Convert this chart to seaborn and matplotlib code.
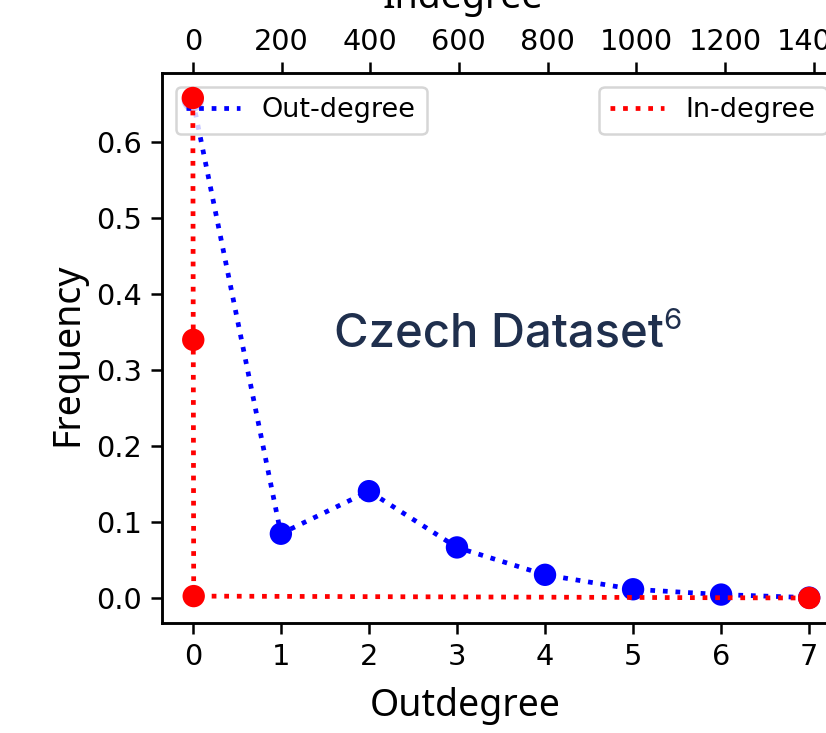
import matplotlib
matplotlib.use("Agg")
import matplotlib.pyplot as plt
import seaborn as sns
import numpy as np

# ---- data ----
outdegree = [0, 1, 2, 3, 4, 5, 6, 7]
out_freq = [0.655, 0.085, 0.141, 0.067, 0.031, 0.012, 0.005, 0.001]
indegree = [0, 1, 2, 1390]
in_freq = [0.658, 0.340, 0.003, 0.0005]
y_ticks = [0.0, 0.1, 0.2, 0.3, 0.4, 0.5, 0.6]
x_ticks = [0, 1, 2, 3, 4, 5, 6, 7]
top_ticks = [0, 200, 400, 600, 800, 1000, 1200, 1400]

W, H, DPI = 826, 733, 180
fig = plt.figure(figsize=(W / DPI, H / DPI), dpi=DPI)
fig.patch.set_facecolor("white")

L, R, B, T = 162, 840, 623, 73
ax = fig.add_axes([L / W, (H - B) / H, (R - L) / W, (B - T) / H])

for side in ["left", "right", "top", "bottom"]:
    ax.spines[side].set_linewidth(1.0)

LW = 1.9
MS = 80
sns.lineplot(x=outdegree, y=out_freq, ax=ax, color="blue", linestyle=":",
             linewidth=LW, label="Out-degree")
sns.scatterplot(x=outdegree, y=out_freq, ax=ax, color="blue", s=MS,
                edgecolor="none", zorder=3)
ax.set_xticks(x_ticks)
ax.set_yticks(y_ticks)
ax.set_xlabel("")
ax.set_ylabel("")
ax.tick_params(length=4.5, width=1.0, labelsize=11.5)
ax.legend(loc="upper left", fontsize=10.8)

ax2 = ax.twiny()
for side in ["left", "right", "top", "bottom"]:
    ax2.spines[side].set_linewidth(1.0)
sns.lineplot(x=indegree, y=in_freq, ax=ax2, color="red", linestyle=":",
             linewidth=LW, label="In-degree")
sns.scatterplot(x=indegree, y=in_freq, ax=ax2, color="red", s=MS,
                edgecolor="none", zorder=3)
ax2.set_xticks(top_ticks)
ax2.set_xlim(-69.5, 1459.5)
ax2.set_xlabel("")
ax2.set_ylabel("")
ax2.tick_params(length=4.5, width=1.0, labelsize=11.5, pad=2.5)
ax2.legend(loc="upper right", fontsize=10.8)

lab_font = ["Noto Sans", "DejaVu Sans"]
fig.text(465 / W, (H - 716) / H, "Outdegree", ha="center", va="baseline",
         fontsize=15, family=lab_font)
fig.text(67 / W, (H - 354) / H, "Frequency", ha="center", va="center",
         rotation=90, fontsize=15, family=lab_font)
fig.text(463 / W, (H - 8) / H, "Indegree", ha="center", va="baseline",
         fontsize=15, family=lab_font)

col = "#1f2f4d"
t = fig.text(334 / W, (H - 347) / H, "Czech Dataset", ha="left", va="baseline",
             fontsize=18.9, fontweight="medium", family=["Inter", "DejaVu Sans"],
             color=col)
fig.canvas.draw()
bb = t.get_window_extent(fig.canvas.get_renderer())
fig.text((bb.x1 - 1) / W, (H - 329) / H, "6", ha="left", va="baseline",
         fontsize=11.8, family=["Inter", "DejaVu Sans"], color=col)

fig.savefig("out.png", dpi=DPI)
